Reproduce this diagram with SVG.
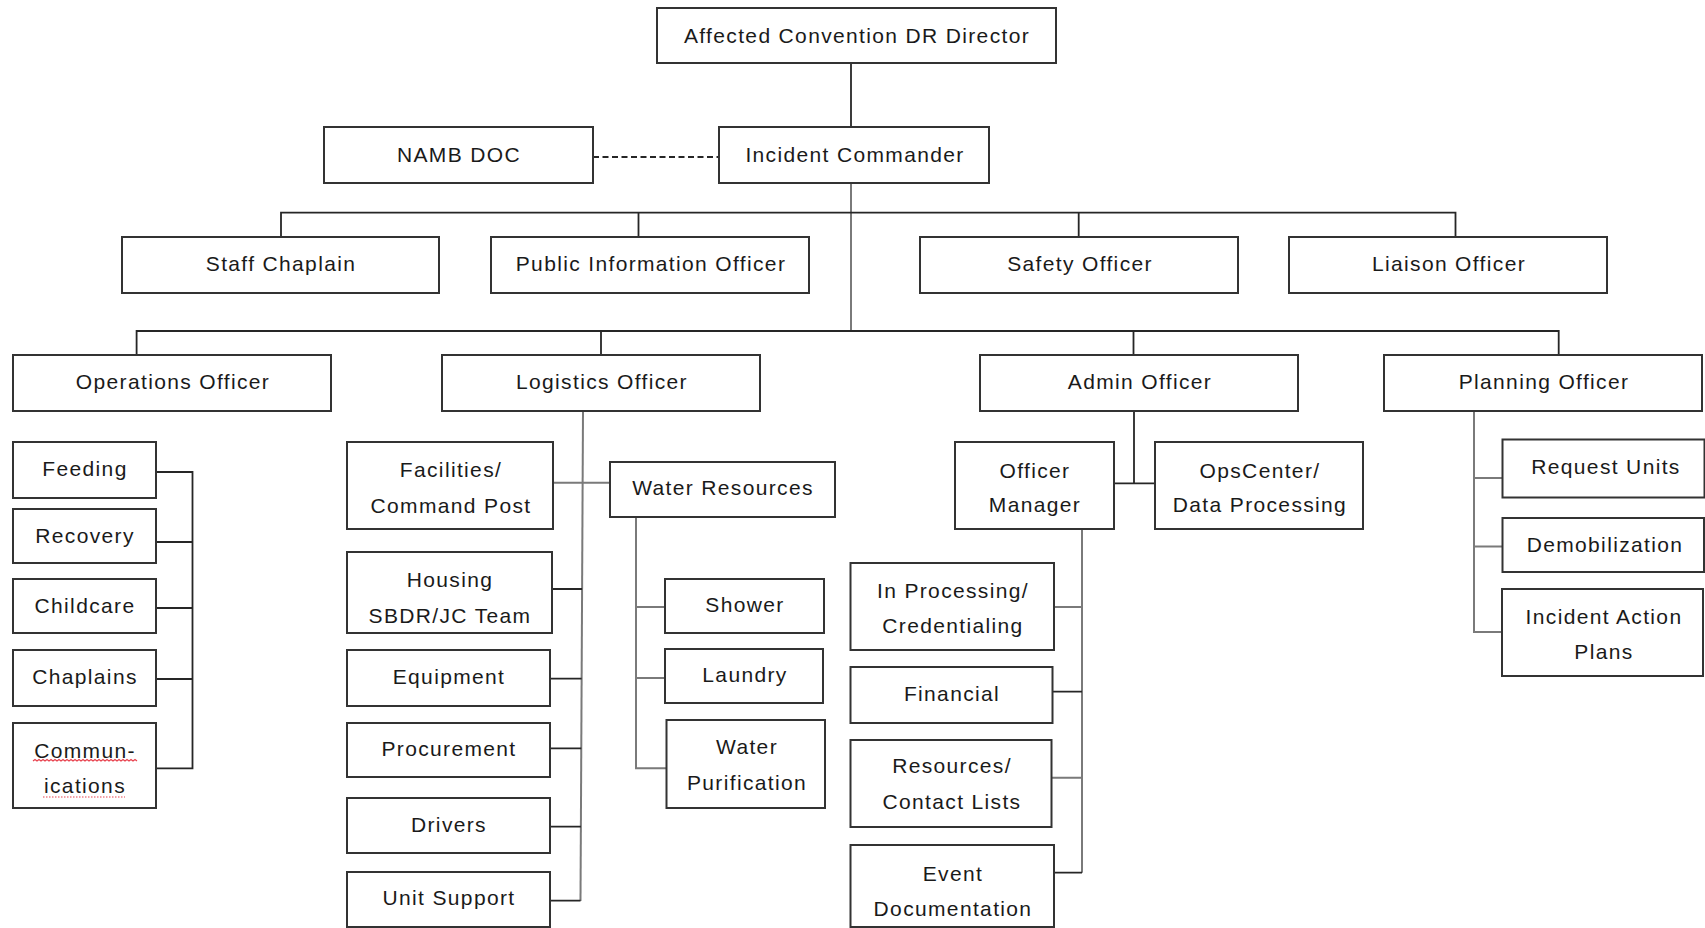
<svg xmlns="http://www.w3.org/2000/svg" width="1705" height="928" viewBox="0 0 1705 928">
<style>
.box{fill:#fff;stroke:#333;stroke-width:2}
.t{font-family:"Liberation Sans",Arial,sans-serif;font-size:21px;letter-spacing:1.35px;fill:#1a1a1a;text-anchor:middle}
.ln{stroke:#262626;stroke-width:1.8;fill:none}
.lg{stroke:#7a7a7a;stroke-width:2;fill:none}
.dash{stroke:#262626;stroke-width:1.8;fill:none;stroke-dasharray:6 3.5}
.sp{stroke:#e8434f;stroke-width:1.2;fill:none}
</style>
<rect width="1705" height="928" fill="#fff"/>
<g id="connectors">
<line class="ln" x1="851" y1="63" x2="851" y2="127"/>
<line class="dash" x1="593" y1="157" x2="719" y2="157"/>
<line class="lg" x1="851" y1="183" x2="851" y2="331"/>
<path class="ln" d="M281 237V212.7H1455.5V237M638.5 212.7V237M1078.7 212.7V237"/>
<path class="ln" d="M136.6 355V331H1558.7V355M601 331V355M1133.5 331V355"/>
<path class="ln" d="M156 472H192.5V768.3H156M156 542H192.5M156 608H192.5M156 679H192.5"/>
<line class="lg" x1="583" y1="411" x2="580.5" y2="901"/>
<path class="ln" d="M550 900.7H580.5M552 589H582.1M550 678.7H581.6M550 748.3H581.3M550 826.7H580.9"/>
<line class="lg" x1="553" y1="482.7" x2="610" y2="482.7"/>
<path class="lg" d="M636 517V768.3H666.5M636 607H665M636 678H665"/>
<path class="ln" d="M1134 411V483.3M1114 483.3H1155"/>
<line class="lg" x1="1082" y1="529" x2="1082" y2="872.7"/>
<path class="lg" d="M1054 607H1082M1051 777.7H1082"/>
<path class="ln" d="M1052.4 691.7H1082M1054 872.7H1082"/>
<path class="lg" d="M1474 411V632H1502M1474 478H1502.5M1474 546.5H1502.5"/>
</g>
<g id="director"><rect class="box" x="657" y="8" width="399" height="55"/><text class="t" x="857" y="43">Affected Convention DR Director</text></g>
<g id="namb"><rect class="box" x="324" y="127" width="269" height="56"/><text class="t" x="459" y="162">NAMB DOC</text></g>
<g id="ic"><rect class="box" x="719" y="127" width="270" height="56"/><text class="t" x="855" y="162">Incident Commander</text></g>
<g id="staff"><rect class="box" x="122" y="237" width="317" height="56"/><text class="t" x="281" y="271">Staff Chaplain</text></g>
<g id="pio"><rect class="box" x="491" y="237" width="318" height="56"/><text class="t" x="651" y="271">Public Information Officer</text></g>
<g id="safety"><rect class="box" x="920" y="237" width="318" height="56"/><text class="t" x="1080" y="271">Safety Officer</text></g>
<g id="liaison"><rect class="box" x="1289" y="237" width="318" height="56"/><text class="t" x="1449" y="271">Liaison Officer</text></g>
<g id="ops"><rect class="box" x="13" y="355" width="318" height="56"/><text class="t" x="173" y="389">Operations Officer</text></g>
<g id="logistics"><rect class="box" x="442" y="355" width="318" height="56"/><text class="t" x="602" y="389">Logistics Officer</text></g>
<g id="admin"><rect class="box" x="980" y="355" width="318" height="56"/><text class="t" x="1140" y="389">Admin Officer</text></g>
<g id="planning"><rect class="box" x="1384" y="355" width="318" height="56"/><text class="t" x="1544" y="389">Planning Officer</text></g>
<g id="feeding"><rect class="box" x="13" y="442" width="143" height="56"/><text class="t" x="85" y="476">Feeding</text></g>
<g id="recovery"><rect class="box" x="13" y="509" width="143" height="54"/><text class="t" x="85" y="543">Recovery</text></g>
<g id="childcare"><rect class="box" x="13" y="579" width="143" height="54"/><text class="t" x="85" y="613">Childcare</text></g>
<g id="chaplains"><rect class="box" x="13" y="650" width="143" height="56"/><text class="t" x="85" y="684">Chaplains</text></g>
<g id="communications"><rect class="box" x="13" y="723" width="143" height="85"/><text class="t" x="85"><tspan x="85" y="758">Commun-</tspan><tspan x="85" y="793">ications</tspan></text>
<path class="sp" d="M33 761l2 -1.5l2 1.5l2 -1.5l2 1.5l2 -1.5l2 1.5l2 -1.5l2 1.5l2 -1.5l2 1.5l2 -1.5l2 1.5l2 -1.5l2 1.5l2 -1.5l2 1.5l2 -1.5l2 1.5l2 -1.5l2 1.5l2 -1.5l2 1.5l2 -1.5l2 1.5l2 -1.5l2 1.5l2 -1.5l2 1.5l2 -1.5l2 1.5l2 -1.5l2 1.5l2 -1.5l2 1.5l2 -1.5l2 1.5l2 -1.5l2 1.5l2 -1.5l2 1.5l2 -1.5l2 1.5l2 -1.5l2 1.5l2 -1.5l2 1.5l2 -1.5l2 1.5l2 -1.5l2 1.5l2 -1.5l2 1.5"/>
<line class="sp" x1="43" y1="797" x2="125" y2="797" stroke-dasharray="1.5 1.5"/></g>
<g id="facilities"><rect class="box" x="347" y="442" width="206" height="87"/><text class="t"><tspan x="451" y="477">Facilities/</tspan><tspan x="451" y="513">Command Post</tspan></text></g>
<g id="housing"><rect class="box" x="347" y="552" width="205" height="81"/><text class="t"><tspan x="450" y="587">Housing</tspan><tspan x="450" y="623">SBDR/JC Team</tspan></text></g>
<g id="equipment"><rect class="box" x="347" y="650" width="203" height="56"/><text class="t" x="449" y="684">Equipment</text></g>
<g id="procurement"><rect class="box" x="347" y="723" width="203" height="54"/><text class="t" x="449" y="756">Procurement</text></g>
<g id="drivers"><rect class="box" x="347" y="798" width="203" height="55"/><text class="t" x="449" y="832">Drivers</text></g>
<g id="unitsupport"><rect class="box" x="347" y="872" width="203" height="55"/><text class="t" x="449" y="905">Unit Support</text></g>
<g id="waterresources"><rect class="box" x="610" y="462" width="225" height="55"/><text class="t" x="723" y="495">Water Resources</text></g>
<g id="shower"><rect class="box" x="665" y="579" width="159" height="54"/><text class="t" x="745" y="612">Shower</text></g>
<g id="laundry"><rect class="box" x="665" y="649" width="158" height="54"/><text class="t" x="745" y="682">Laundry</text></g>
<g id="waterpurification"><rect class="box" x="666.5" y="720" width="158.5" height="88"/><text class="t"><tspan x="747" y="754">Water</tspan><tspan x="747" y="790">Purification</tspan></text></g>
<g id="officermanager"><rect class="box" x="955" y="442" width="159" height="87"/><text class="t"><tspan x="1035" y="478">Officer</tspan><tspan x="1035" y="512">Manager</tspan></text></g>
<g id="opscenter"><rect class="box" x="1155" y="442" width="208" height="87"/><text class="t"><tspan x="1260" y="478">OpsCenter/</tspan><tspan x="1260" y="512">Data Processing</tspan></text></g>
<g id="inprocessing"><rect class="box" x="850.5" y="563" width="203.5" height="87"/><text class="t"><tspan x="953" y="598">In Processing/</tspan><tspan x="953" y="633">Credentialing</tspan></text></g>
<g id="financial"><rect class="box" x="850.5" y="667" width="202" height="56"/><text class="t" x="952" y="701">Financial</text></g>
<g id="resources"><rect class="box" x="850.5" y="740" width="201" height="87"/><text class="t"><tspan x="952" y="773">Resources/</tspan><tspan x="952" y="809">Contact Lists</tspan></text></g>
<g id="eventdoc"><rect class="box" x="850.5" y="845" width="203.5" height="82"/><text class="t"><tspan x="953" y="881">Event</tspan><tspan x="953" y="916">Documentation</tspan></text></g>
<g id="requestunits"><rect class="box" x="1502.5" y="439.5" width="202" height="58"/><text class="t" x="1606" y="474">Request Units</text></g>
<g id="demobilization"><rect class="box" x="1502.5" y="518" width="201.5" height="54"/><text class="t" x="1605" y="552">Demobilization</text></g>
<g id="iap"><rect class="box" x="1502" y="589" width="201" height="87"/><text class="t"><tspan x="1604" y="624">Incident Action</tspan><tspan x="1604" y="659">Plans</tspan></text></g>
</svg>
